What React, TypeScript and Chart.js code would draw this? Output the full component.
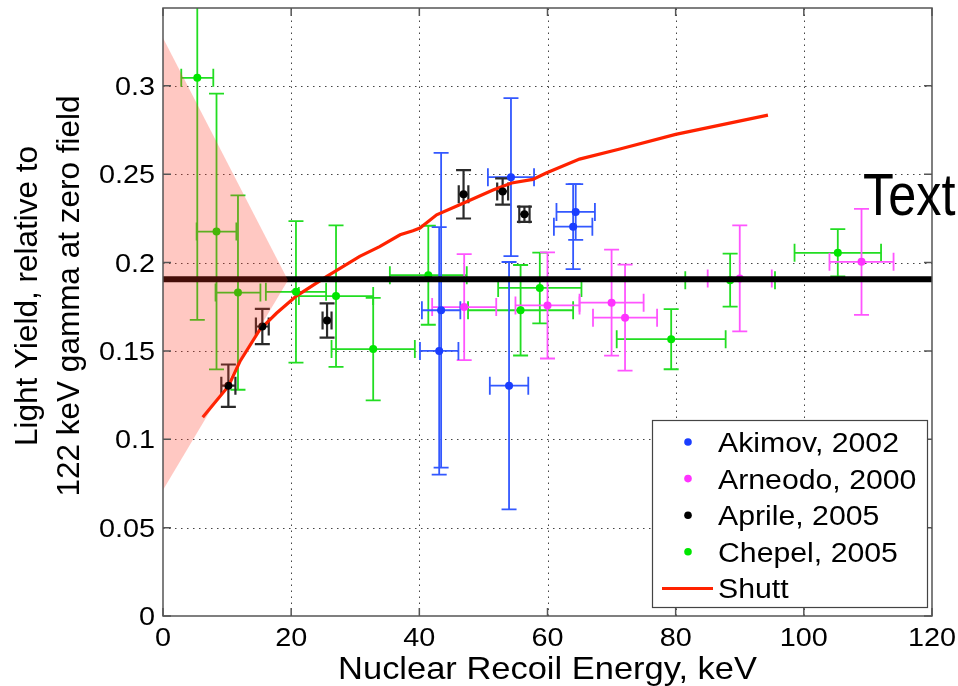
import React, { useEffect, useRef } from 'react';
import { Chart, registerables } from 'chart.js';

Chart.register(...registerables);

const FONT = '"Liberation Sans", Arial, Helvetica, sans-serif';

// ---- axes ----
const xTicks = [0, 20, 40, 60, 80, 100, 120];
const xTickLabels = ['0', '20', '40', '60', '80', '100', '120'];
const yTicks = [0, 0.05, 0.1, 0.15, 0.2, 0.25, 0.3];
const yTickLabels = ['0', '0.05', '0.1', '0.15', '0.2', '0.25', '0.3'];
const xTitle = 'Nuclear Recoil Energy, keV';
const yTitleLines = ['Light Yield, relative to', '122 keV gamma at zero field'];
const annotationText = 'Text';

// ---- data ----
const akimovX = [43.4, 43.1, 54.3, 54.0, 64.4, 64.0];
const akimovY = [0.173, 0.15, 0.2483, 0.1303, 0.2286, 0.2203];
const akimovXErr = [3.0, 3.0, 3.6, 3.0, 3.0, 3.0];
const akimovYErr = [0.089, 0.07, 0.0447, 0.07, 0.0158, 0.024];

const arneodoX = [47.0, 60.0, 70.0, 72.1, 90.0, 109.0];
const arneodoY = [0.1748, 0.1757, 0.1773, 0.1688, 0.191, 0.2004];
const arneodoXErr = [5, 5, 5, 5, 5, 5];
const arneodoYErr = [0.03, 0.03, 0.03, 0.03, 0.03, 0.03];

const aprileX = [10.2, 15.5, 25.6, 46.9, 53.0, 56.4];
const aprileY = [0.1303, 0.1638, 0.1672, 0.2386, 0.2402, 0.2273];
const aprileXErr = [1.1, 1.0, 0.7, 0.75, 0.85, 0.8];
const aprileYErr = [0.012, 0.01, 0.0097, 0.0137, 0.0074, 0.0043];

const chepelX = [5.35, 8.35, 11.7, 20.75, 27.0, 32.8, 41.4, 55.8, 58.8, 79.3, 88.5, 105.3];
const chepelY = [0.3045, 0.2175, 0.183, 0.1834, 0.181, 0.151, 0.1928, 0.173, 0.1856, 0.1566, 0.19, 0.2055];
const chepelXErr = [2.5, 3.1, 3.5, 4.7, 5.8, 6.5, 6.0, 8.2, 6.5, 8.5, 7.0, 6.75];
const chepelYErr = [0.137, 0.078, 0.055, 0.04, 0.04, 0.029, 0.028, 0.0256, 0.02, 0.017, 0.015, 0.0134];

const shuttX = [6.2, 10.2, 12.0, 15.1, 17.7, 20.8, 25.5, 30.7, 33.8, 37.0, 39.0, 40.1, 42.7, 46.3, 51.5, 54.4, 57.7, 59.8, 65.0, 71.3, 80.0, 94.4];
const shuttY = [0.1125, 0.13, 0.144, 0.162, 0.1713, 0.181, 0.192, 0.2035, 0.209, 0.2157, 0.218, 0.2195, 0.227, 0.2327, 0.241, 0.245, 0.247, 0.2506, 0.2585, 0.2642, 0.2725, 0.2834];

const refLineX = [0, 120];
const refLineY = [0.1905, 0.1905];

const bandX = [0, 19.5, 0];
const bandY = [0.327, 0.19, 0.0713];

const legendLabels = ['Akimov, 2002', 'Arneodo, 2000', 'Aprile, 2005', 'Chepel, 2005', 'Shutt'];

const C_BLUE = '#1a3dff';
const C_BLUE_BAR = '#3358ff';
const C_MAG = '#ff33ff';
const C_MAG_BAR = '#ff55ff';
const C_BLACK = '#000000';
const C_BLACK_BAR = '#2a2a2a';
const C_GREEN = '#00e600';
const C_GREEN_BAR = '#22dd22';
const C_RED = '#ff2200';

const SX = 1.13; // horizontal stretch of the original figure's text

const pts = (xs: number[], ys: number[]) => xs.map((x, i) => ({ x, y: ys[i] }));

type ErrSet = { xs: number[]; ys: number[]; xe: number[]; ye: number[]; color: string; width: number };

const errSets: ErrSet[] = [
  { xs: chepelX, ys: chepelY, xe: chepelXErr, ye: chepelYErr, color: C_GREEN_BAR, width: 1.8 },
  { xs: arneodoX, ys: arneodoY, xe: arneodoXErr, ye: arneodoYErr, color: C_MAG_BAR, width: 1.8 },
  { xs: akimovX, ys: akimovY, xe: akimovXErr, ye: akimovYErr, color: C_BLUE_BAR, width: 1.8 },
  { xs: aprileX, ys: aprileY, xe: aprileXErr, ye: aprileYErr, color: C_BLACK_BAR, width: 2.2 },
];

function drawText(ctx: CanvasRenderingContext2D, txt: string, x: number, y: number, align: CanvasTextAlign, sx: number) {
  ctx.save();
  ctx.translate(x, y);
  ctx.scale(sx, 1);
  ctx.textAlign = align;
  ctx.textBaseline = 'alphabetic';
  ctx.fillText(txt, 0, 0);
  ctx.restore();
}

const customPlugin = {
  id: 'custom',
  beforeDatasetsDraw(chart: any) {
    const { ctx, chartArea: a, scales } = chart;
    const xs = scales.x;
    const ys = scales.y;
    ctx.save();
    // tick labels
    ctx.fillStyle = '#000';
    ctx.font = `25.5px ${FONT}`;
    xTicks.forEach((v, i) => {
      drawText(ctx, xTickLabels[i], xs.getPixelForValue(v), 646, 'center', SX);
    });
    yTicks.forEach((v, i) => {
      drawText(ctx, yTickLabels[i], 155, ys.getPixelForValue(v) + 9, 'right', SX);
    });
    // dotted grid
    ctx.strokeStyle = '#444';
    ctx.lineWidth = 1;
    ctx.setLineDash([1.5, 4.5]);
    xTicks.forEach((v) => {
      if (v === xTicks[0] || v === xTicks[xTicks.length - 1]) return;
      const px = Math.round(xs.getPixelForValue(v)) + 0.5;
      ctx.beginPath();
      ctx.moveTo(px, a.bottom);
      ctx.lineTo(px, a.top);
      ctx.stroke();
    });
    yTicks.forEach((v) => {
      if (v === 0) return;
      const py = Math.round(ys.getPixelForValue(v)) + 0.5;
      ctx.beginPath();
      ctx.moveTo(a.left, py);
      ctx.lineTo(a.right, py);
      ctx.stroke();
    });
    ctx.setLineDash([]);
    // error bars
    ctx.beginPath();
    ctx.rect(a.left, a.top, a.right - a.left, a.bottom - a.top);
    ctx.clip();
    const capH = 7.5;
    const capV = 9;
    errSets.forEach((s) => {
      ctx.strokeStyle = s.color;
      ctx.lineWidth = s.width;
      s.xs.forEach((x, i) => {
        const px = xs.getPixelForValue(x);
        const py = ys.getPixelForValue(s.ys[i]);
        const y1 = ys.getPixelForValue(s.ys[i] + s.ye[i]);
        const y2 = ys.getPixelForValue(s.ys[i] - s.ye[i]);
        const x1 = xs.getPixelForValue(x - s.xe[i]);
        const x2 = xs.getPixelForValue(x + s.xe[i]);
        ctx.beginPath();
        ctx.moveTo(px, y1);
        ctx.lineTo(px, y2);
        ctx.moveTo(px - capH, y1);
        ctx.lineTo(px + capH, y1);
        ctx.moveTo(px - capH, y2);
        ctx.lineTo(px + capH, y2);
        ctx.moveTo(x1, py);
        ctx.lineTo(x2, py);
        ctx.moveTo(x1, py - capV);
        ctx.lineTo(x1, py + capV);
        ctx.moveTo(x2, py - capV);
        ctx.lineTo(x2, py + capV);
        ctx.stroke();
      });
    });
    ctx.restore();
  },
  afterDatasetsDraw(chart: any) {
    const { ctx, chartArea: a, scales } = chart;
    const xs = scales.x;
    const ys = scales.y;
    ctx.save();
    // translucent band
    ctx.save();
    ctx.beginPath();
    ctx.rect(a.left, a.top, a.right - a.left, a.bottom - a.top);
    ctx.clip();
    ctx.fillStyle = 'rgba(255, 50, 30, 0.27)';
    ctx.beginPath();
    bandX.forEach((x, i) => {
      const px = xs.getPixelForValue(x);
      const py = ys.getPixelForValue(bandY[i]);
      if (i === 0) ctx.moveTo(px, py);
      else ctx.lineTo(px, py);
    });
    ctx.closePath();
    ctx.fill();
    ctx.restore();

    // axes box
    ctx.strokeStyle = '#555';
    ctx.lineWidth = 1.5;
    ctx.strokeRect(a.left, a.top, a.right - a.left, a.bottom - a.top);
    // inward ticks
    const tl = 8;
    ctx.beginPath();
    xTicks.forEach((v) => {
      const px = xs.getPixelForValue(v);
      ctx.moveTo(px, a.bottom);
      ctx.lineTo(px, a.bottom - tl);
      ctx.moveTo(px, a.top);
      ctx.lineTo(px, a.top + tl);
    });
    yTicks.forEach((v) => {
      const py = ys.getPixelForValue(v);
      ctx.moveTo(a.left, py);
      ctx.lineTo(a.left + tl, py);
      ctx.moveTo(a.right, py);
      ctx.lineTo(a.right - tl, py);
    });
    ctx.stroke();

    // legend
    const lx = 652, ly = 420, lw = 275, lh = 187;
    ctx.fillStyle = '#fff';
    ctx.fillRect(lx, ly, lw, lh);
    ctx.strokeStyle = '#444';
    ctx.lineWidth = 1.2;
    ctx.strokeRect(lx + 0.5, ly + 0.5, lw, lh);
    const colors = [C_BLUE, C_MAG, C_BLACK, C_GREEN];
    ctx.font = `27px ${FONT}`;
    legendLabels.forEach((lab, i) => {
      const cy = 442 + i * 36.6;
      if (i < 4) {
        ctx.fillStyle = colors[i];
        ctx.beginPath();
        ctx.arc(688, cy, 3.8, 0, Math.PI * 2);
        ctx.fill();
      } else {
        ctx.strokeStyle = C_RED;
        ctx.lineWidth = 3;
        ctx.beginPath();
        ctx.moveTo(662, cy);
        ctx.lineTo(713, cy);
        ctx.stroke();
      }
      ctx.fillStyle = '#000';
      drawText(ctx, lab, 718, cy + 10, 'left', 1.12);
    });

    // annotation text
    ctx.fillStyle = '#000';
    ctx.font = `60px ${FONT}`;
    drawText(ctx, annotationText, 863, 215, 'left', 0.84);

    // x title
    ctx.font = `30.5px ${FONT}`;
    drawText(ctx, xTitle, (a.left + a.right) / 2, 679, 'center', SX);

    // y title
    ctx.save();
    ctx.translate(0, 296);
    ctx.rotate(-Math.PI / 2);
    ctx.font = `31.5px ${FONT}`;
    ctx.textAlign = 'center';
    ctx.textBaseline = 'alphabetic';
    ctx.fillText(yTitleLines[0], 0, 37);
    ctx.fillText(yTitleLines[1], 0, 79);
    ctx.restore();

    ctx.restore();
  },
};

export default function App() {
  const ref = useRef<HTMLCanvasElement>(null);
  useEffect(() => {
    const canvas = ref.current;
    if (!canvas) return;
    const scatterDs = (label: string, xs: number[], ys: number[], color: string, order: number) => ({
      label,
      data: pts(xs, ys),
      backgroundColor: color,
      borderColor: color,
      pointRadius: 4,
      pointBorderWidth: 0,
      showLine: false,
      order,
    });
    const chart = new Chart(canvas, {
      type: 'scatter',
      data: {
        datasets: [
          {
            label: 'reference',
            type: 'line',
            data: pts(refLineX, refLineY),
            borderColor: '#000',
            borderWidth: 6,
            pointRadius: 0,
            fill: false,
            order: 0,
          } as any,
          scatterDs(legendLabels[0], akimovX, akimovY, C_BLUE, 1),
          scatterDs(legendLabels[1], arneodoX, arneodoY, C_MAG, 2),
          scatterDs(legendLabels[2], aprileX, aprileY, C_BLACK, 3),
          scatterDs(legendLabels[3], chepelX, chepelY, C_GREEN, 4),
          {
            label: legendLabels[4],
            type: 'line',
            data: pts(shuttX, shuttY),
            borderColor: C_RED,
            borderWidth: 3.2,
            pointRadius: 0,
            fill: false,
            tension: 0,
            order: 5,
          } as any,
        ],
      },
      options: {
        responsive: false,
        animation: false,
        devicePixelRatio: 1,
        layout: { padding: { left: 0, right: 26, top: 8, bottom: 0 } },
        plugins: { legend: { display: false }, tooltip: { enabled: false } },
        scales: {
          x: {
            type: 'linear',
            min: 0,
            max: 120,
            grid: { display: false, drawTicks: false },
            border: { display: false },
            afterBuildTicks: (s: any) => {
              s.ticks = xTicks.map((v) => ({ value: v }));
            },
            afterFit: (s: any) => {
              s.height = 70;
              s.paddingLeft = 0;
              s.paddingRight = 0;
              s.paddingTop = 0;
              s.paddingBottom = 0;
            },
            ticks: { display: false },
          },
          y: {
            type: 'linear',
            min: 0,
            max: 0.344,
            grid: { display: false, drawTicks: false },
            border: { display: false },
            afterBuildTicks: (s: any) => {
              s.ticks = yTicks.map((v) => ({ value: v }));
            },
            afterFit: (s: any) => {
              s.width = 163;
              s.paddingLeft = 0;
              s.paddingRight = 0;
              s.paddingTop = 0;
              s.paddingBottom = 0;
            },
            ticks: { display: false },
          },
        },
      } as any,
      plugins: [customPlugin],
    });
    return () => chart.destroy();
  }, []);
  return (
    <div style={{ position: 'absolute', left: 0, top: 0, width: 958, height: 686, background: '#fff' }}>
      <canvas ref={ref} width={958} height={686} style={{ display: 'block' }} />
    </div>
  );
}
